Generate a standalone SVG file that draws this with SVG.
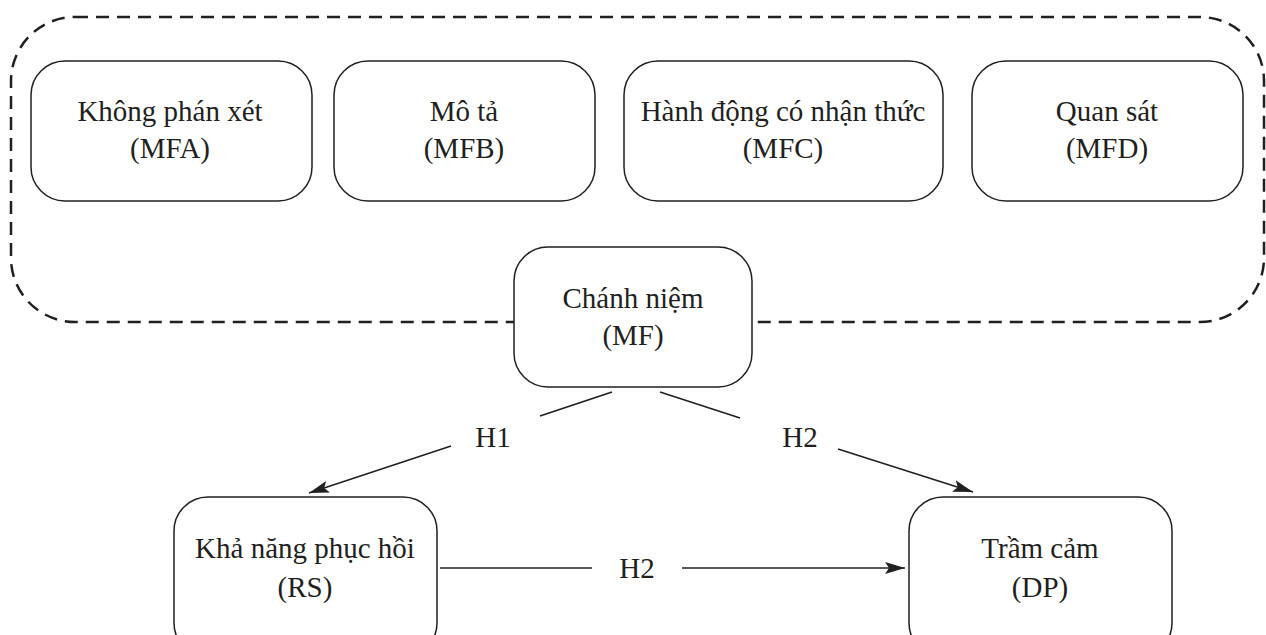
<svg xmlns="http://www.w3.org/2000/svg" width="1266" height="635" viewBox="0 0 1266 635">
<defs>
<style>
.box{fill:#fff;stroke:#231f20;stroke-width:1.5}
.t{font-family:"Liberation Serif","DejaVu Serif",serif;font-size:29px;fill:#231f20;text-anchor:middle}
.c{stroke:#231f20;stroke-width:1.5;fill:none}
</style>
<marker id="a" viewBox="0 0 20 12" refX="20" refY="6" markerWidth="20" markerHeight="12" markerUnits="userSpaceOnUse" orient="auto"><path d="M0,0 L20,6 L0,12 L4,6 z" fill="#231f20"/></marker>
</defs>
<g id="group-border">
<rect x="11" y="17" width="1253" height="305" rx="64" ry="64" fill="none" stroke="#231f20" stroke-width="2.5" stroke-dasharray="13 8"/>
</g>
<g id="connectors">
<line class="c" x1="612" y1="392" x2="540" y2="416"/>
<line class="c" x1="451" y1="446" x2="309" y2="493" marker-end="url(#a)"/>
<line class="c" x1="660" y1="392" x2="740" y2="418"/>
<line class="c" x1="838" y1="449" x2="973" y2="492" marker-end="url(#a)"/>
<line class="c" x1="440" y1="568" x2="592" y2="568"/>
<line class="c" x1="682" y1="568" x2="905" y2="568" marker-end="url(#a)"/>
<text class="t" x="493" y="447">H1</text>
<text class="t" x="800" y="447">H2</text>
<text class="t" x="637" y="578">H2</text>
</g>
<g id="node-mfa">
<rect class="box" x="31" y="61" width="281" height="140" rx="34"/>
<text class="t" x="170" y="121">Không phán xét</text>
<text class="t" x="170" y="158">(MFA)</text>
</g>
<g id="node-mfb">
<rect class="box" x="334" y="61" width="261" height="140" rx="34"/>
<text class="t" x="464" y="121">Mô tả</text>
<text class="t" x="464" y="158">(MFB)</text>
</g>
<g id="node-mfc">
<rect class="box" x="624" y="61" width="319" height="140" rx="34"/>
<text class="t" x="783" y="121">Hành động có nhận thức</text>
<text class="t" x="783" y="158">(MFC)</text>
</g>
<g id="node-mfd">
<rect class="box" x="972" y="61" width="271" height="140" rx="34"/>
<text class="t" x="1107" y="121">Quan sát</text>
<text class="t" x="1107" y="158">(MFD)</text>
</g>
<g id="node-mf">
<rect class="box" x="514" y="247" width="238" height="140" rx="34"/>
<text class="t" x="633" y="308">Chánh niệm</text>
<text class="t" x="633" y="345">(MF)</text>
</g>
<g id="node-rs">
<rect class="box" x="174" y="497" width="263" height="160" rx="34"/>
<text class="t" x="305" y="558">Khả năng phục hồi</text>
<text class="t" x="305" y="597">(RS)</text>
</g>
<g id="node-dp">
<rect class="box" x="909" y="497" width="263" height="160" rx="34"/>
<text class="t" x="1040" y="558">Trầm cảm</text>
<text class="t" x="1040" y="597">(DP)</text>
</g>
</svg>
